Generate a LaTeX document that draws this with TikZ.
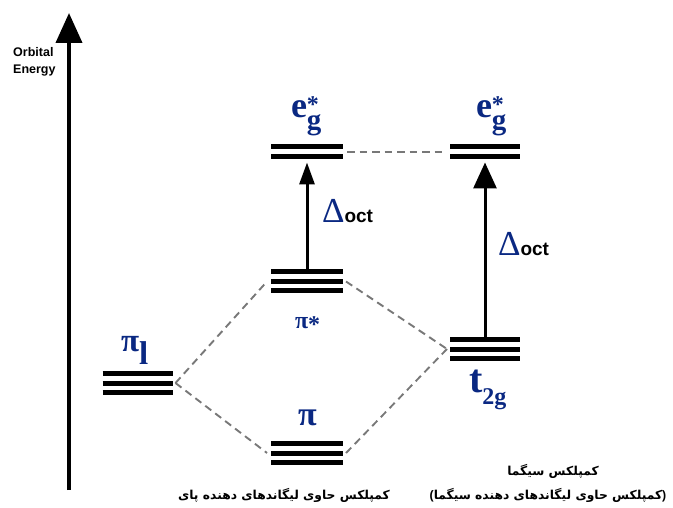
\documentclass[tikz,border=0pt]{standalone}
\usepackage{fontspec}
\setmainfont{Liberation Serif}
\newfontfamily\sansbold{Liberation Sans}
\newfontfamily\fafont[Script=Arabic]{DejaVu Sans}
\TeXXeTstate=1
\usetikzlibrary{arrows.meta}
\definecolor{labblue}{RGB}{10,40,130}
\definecolor{dashgray}{RGB}{120,120,120}
\newcommand{\eglab}{\fontsize{36}{36}\selectfont e\rlap{\raisebox{5pt}{\fontsize{24}{24}\selectfont *}}\raisebox{-12pt}{\fontsize{29}{29}\selectfont g}}
\newcommand{\deltaoct}{\fontsize{35}{35}\selectfont Δ{\color{black}\sansbold\bfseries\fontsize{19}{19}\selectfont oct}}
\newcommand{\lpar}{\mbox{\sansbold\bfseries (}}
\newcommand{\rpar}{\mbox{\sansbold\bfseries )}}
\begin{document}
\begin{tikzpicture}[x=1pt,y=-1pt,
  lvl/.style={inner sep=0pt, outer sep=0pt, minimum height=24pt},
  lvltwo/.style={inner sep=0pt, outer sep=0pt, minimum height=15pt},
  lvlline/.style={line width=5pt, black},
  corr/.style={draw=dashgray, line width=1.9pt, dash pattern=on 7.5pt off 5pt},
  gapsmall/.style={-{Triangle[length=22pt,width=15pt]}, line width=3pt, shorten >=3pt},
  gapbig/.style={-{Triangle[length=26pt,width=23pt]}, line width=3pt, shorten >=3pt},
  axisline/.style={-{Triangle[length=30pt,width=26pt]}, line width=4pt},
  lab/.style={inner sep=0pt, outer sep=0pt, anchor=base west, text=labblue, font=\bfseries},
  dlab/.style={inner sep=0pt, outer sep=0pt, anchor=base west, text=labblue},
  fa/.style={inner sep=0pt, outer sep=0pt, font=\fafont\bfseries\fontsize{12.3}{14}\selectfont}]
\useasboundingbox (0,0) rectangle (673,508);
% axis
\coordinate (axb) at (69,490);
\coordinate (axt) at (69,13);
\draw[axisline] (axb) -- (axt);
\node[inner sep=0pt, anchor=base west, align=left, font=\sansbold\bfseries\fontsize{12.5}{17}\selectfont] (axlab) at (13,74) {Orbital\\Energy};
% levels
\node[lvl, minimum width=70pt] (pi1) at (137.5,383) {};
\node[lvl, minimum width=72pt] (pistar) at (307,281.5) {};
\node[lvl, minimum width=72pt] (pi) at (307,453) {};
\node[lvl, minimum width=70pt] (t2g) at (485,349) {};
\node[lvltwo, minimum width=72pt] (egL) at (307,152) {};
\node[lvltwo, minimum width=70pt] (egR) at (485,152) {};
\foreach \n in {pi1,pistar,pi,t2g}{
  \foreach \d in {-9.5,0,9.5}{
    \draw[lvlline] ([yshift=\d pt]\n.west) -- ([yshift=\d pt]\n.east);
  }
}
\foreach \n in {egL,egR}{
  \foreach \d in {-5,5}{
    \draw[lvlline] ([yshift=\d pt]\n.west) -- ([yshift=\d pt]\n.east);
  }
}
% correlation lines
\draw[corr] ([xshift=3pt]pi1.east) -- ([xshift=-4pt]pistar.west);
\draw[corr] ([xshift=3pt]pi1.east) -- ([xshift=-4pt]pi.west);
\draw[corr] ([xshift=3pt]pistar.east) -- ([xshift=-3pt]t2g.west);
\draw[corr] ([xshift=3pt]pi.east) -- ([xshift=-3pt]t2g.west);
\draw[corr] ([xshift=4pt]egL.east) -- ([xshift=-4pt]egR.west);
% splitting arrows
\draw[gapsmall] (pistar.north) -- (egL.south);
\draw[gapbig] (t2g.north) -- (egR.south);
% labels
\node[lab] (lpi1) at (121,352) {\fontsize{33}{33}\selectfont π\raisebox{-13pt}{l}};
\node[lab] (lpistar) at (295,328) {\fontsize{24}{24}\selectfont π\raisebox{-5pt}{*}};
\node[lab] (lpi) at (298,425) {\fontsize{34}{34}\selectfont π};
\node[lab] (lt2g) at (469,392) {\fontsize{40}{40}\selectfont t\raisebox{-12.6pt}{\fontsize{24}{24}\selectfont 2g}};
\node[lab] (legL) at (291,118) {\eglab};
\node[lab] (legR) at (476,118) {\eglab};
\node[dlab] (dL) at (322,223) {\deltaoct};
\node[dlab] (dR) at (498,255) {\deltaoct};
% captions
\node[fa] (capL) at (284,495) {\beginR کمپلکس حاوی لیگاندهای دهنده پای\endR};
\node[fa] (capR1) at (553,471) {\beginR کمپلکس سیگما\endR};
\node[fa] (capR2) at (548,495) {\lpar\beginR کمپلکس حاوی لیگاندهای دهنده سیگما\endR\rpar};
\end{tikzpicture}
\end{document}
